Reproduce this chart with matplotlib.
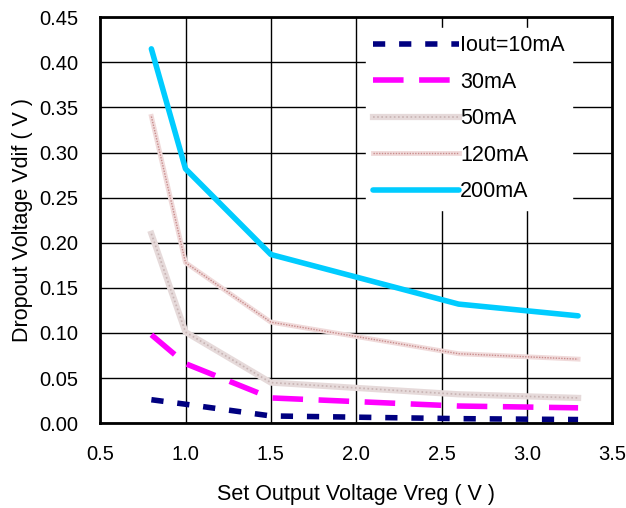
import matplotlib
matplotlib.use("Agg")
import matplotlib.pyplot as plt

plt.rcParams['font.family'] = ['Liberation Sans', 'DejaVu Sans']

# Data
vreg = [0.8, 1.0, 1.5, 2.6, 3.3]
labels = ['Iout=10mA', '30mA', '50mA', '120mA', '200mA']
v_10ma = [0.026, 0.021, 0.008, 0.005, 0.004]
v_30ma = [0.098, 0.066, 0.028, 0.019, 0.017]
v_50ma = [0.210, 0.101, 0.045, 0.032, 0.028]
v_120ma = [0.340, 0.178, 0.112, 0.077, 0.071]
v_200ma = [0.415, 0.282, 0.187, 0.132, 0.119]

fig = plt.figure(figsize=(6.26, 5.08), dpi=100)
ax = fig.add_axes([0.160, 0.167, 0.818, 0.799])

l10, = ax.plot(vreg, v_10ma, color='#000080', lw=4, ls=(0, (2.2, 2.5)))
l30, = ax.plot(vreg, v_30ma, color='#ff00ff', lw=4, ls=(0, (5.5, 2.8)))
# hatched-looking lines: light base plus fine dotted overlay
l50a, = ax.plot(vreg, v_50ma, color='#e6dada', lw=4.5)
l50b, = ax.plot(vreg, v_50ma, color='#c8b4b4', lw=1.2, ls=(0, (1, 1.5)))
l120a, = ax.plot(vreg, v_120ma, color='#f0dada', lw=3.5)
l120b, = ax.plot(vreg, v_120ma, color='#c88c8c', lw=1.0, ls=(0, (1, 1)))
l200, = ax.plot(vreg, v_200ma, color='#00ccff', lw=4, solid_capstyle='round')

ax.set_xlim(0.5, 3.5)
ax.set_ylim(0, 0.45)
ax.set_xticks([0.5, 1.0, 1.5, 2.0, 2.5, 3.0, 3.5])
ax.set_yticks([i * 0.05 for i in range(10)])
ax.set_yticklabels([f'{i * 0.05:.2f}' for i in range(10)])
ax.tick_params(length=0, labelsize=14.5, pad=16)
ax.grid(True, color='black', lw=1)
for s in ax.spines.values():
    s.set_linewidth(2)

ax.set_xlabel('Set Output Voltage Vreg ( V )', fontsize=15.5, labelpad=14)
ax.set_ylabel('Dropout Voltage Vdif ( V )', fontsize=15.5, labelpad=4)

handles = [l10, l30, (l50a, l50b), (l120a, l120b), l200]
leg = ax.legend(handles, labels, loc='upper right', bbox_to_anchor=(0.935, 0.99),
                frameon=True, fontsize=15.5, handlelength=4.0, handletextpad=0.05,
                labelspacing=0.72, borderaxespad=0.3, borderpad=0.35)
leg.get_frame().set_facecolor('white')
leg.get_frame().set_edgecolor('white')
leg.get_frame().set_alpha(1)
leg.get_frame().set_boxstyle('square', pad=0.0)

fig.savefig('out.png', dpi=100)
